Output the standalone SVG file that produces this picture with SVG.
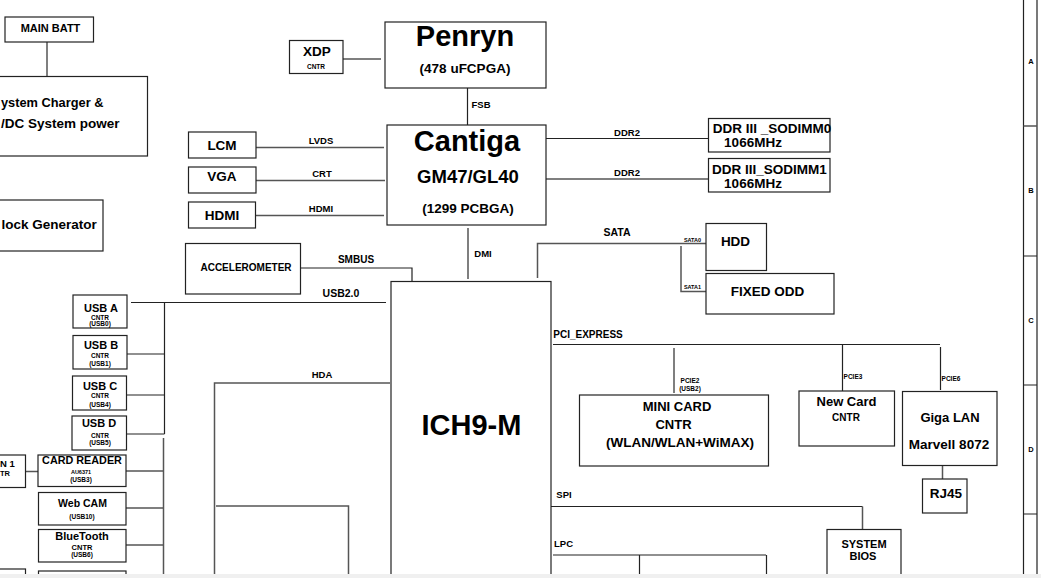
<svg xmlns="http://www.w3.org/2000/svg" width="1041" height="578" viewBox="0 0 1041 578">
<style>
text{font-family:"Liberation Sans",Arial,sans-serif;font-weight:bold;fill:#000;text-anchor:middle}
.b{fill:#fff;stroke:#222;stroke-width:1.2}
.l{fill:none;stroke:#222;stroke-width:1.2}
.g{fill:none;stroke:#555;stroke-width:1.5}
.s5{font-size:5.500px}.s6{font-size:6.500px}.s7{font-size:7.500px}.s9{font-size:9.500px}.s95{font-size:10px}.s10{font-size:10.500px}.s11{font-size:11px}.s12{font-size:13px}.s13{font-size:13.500px}.s14{font-size:13.500px}
</style>
<rect width="1041" height="578" fill="#fff"/>
<g id="connectors">
<path class="g" d="M47 42V76M343 59H381M256 147.500H384M256 180.500H385M256 215.500H384M546 179H708M468 228V279M537.500 278V243.500H706M681 246V291.500H706"/>
<path class="l" d="M467.500 88V125M546 138.500H708M301 268H412V281M131 302.500H386M164.500 302.500V434M127 354H164.500M126.500 395H164.500M126.500 434H164.500M553 344.500H940M842.500 344.500V391M940.500 347V390M551 506.500H862.500M553 555H766M639.500 555V574M766.500 555V574"/>
<path class="g" d="M163.500 438V574M25 471.500H38M126 471H163.500M126 508H163.500M126 545H163.500M390 383H214.500V574M216 506H348.500V574M674 348V393M942.500 465.500V479M862.500 506.500V529"/>
<path class="l" d="M1023.500 0V574M1037 0V574"/>
<path class="g" d="M1023.500 126H1037"/>
<path class="l" d="M1023.500 256H1037M1023.500 385H1037M1023.500 514H1037"/>
</g>
<g id="main-batt"><rect class="b" x="5" y="17" width="88.500" height="25"/><text class="s11" x="50.500" y="32">MAIN BATT</text></g>
<g id="charger"><rect class="b" x="-10" y="76.500" width="157.500" height="79.500"/><text style="font-size:12.800px;text-anchor:start" x="1" y="107">ystem Charger &amp;</text><text style="font-size:13.500px;text-anchor:start" x="1" y="128">/DC System power</text></g>
<g id="clock"><rect class="b" x="-10" y="200" width="113" height="51"/><text style="font-size:13.500px;text-anchor:start" x="1.500" y="229">lock Generator</text></g>
<g id="xdp"><rect class="b" x="289.500" y="40.500" width="53.500" height="33"/><text class="s14" x="317" y="56">XDP</text><text class="s6" x="316" y="69">CNTR</text></g>
<g id="penryn"><rect class="b" x="385" y="22" width="161" height="66"/><text x="465" y="46" style="font-size:29px">Penryn</text><text class="s13" x="465" y="73">(478 uFCPGA)</text></g>
<g id="cantiga"><rect class="b" x="387" y="125" width="159" height="100"/><text x="467" y="151" style="font-size:29px">Cantiga</text><text x="468" y="183" style="font-size:18.500px">GM47/GL40</text><text class="s13" x="468" y="213">(1299 PCBGA)</text></g>
<g id="lcm"><rect class="b" x="188.500" y="132" width="67.500" height="26"/><text class="s14" x="222" y="150">LCM</text></g>
<g id="vga"><rect class="b" x="188.500" y="167" width="67.500" height="26"/><text class="s14" x="222" y="181">VGA</text></g>
<g id="hdmi"><rect class="b" x="188.500" y="202" width="67" height="26"/><text class="s14" x="222" y="220">HDMI</text></g>
<g id="sodimm0"><rect class="b" x="708.500" y="118.500" width="121.500" height="33.500"/><text class="s13" x="772" y="133">DDR III _SODIMM0</text><text class="s13" x="753" y="147">1066MHz</text></g>
<g id="sodimm1"><rect class="b" x="708.500" y="158.500" width="121.500" height="33.500"/><text class="s13" x="769.500" y="174">DDR III_SODIMM1</text><text class="s13" x="753" y="188">1066MHz</text></g>
<g id="accelerometer"><rect class="b" x="185.500" y="243.500" width="115" height="50.500"/><text class="s95" x="246" y="271">ACCELEROMETER</text></g>
<g id="hdd"><rect class="b" x="706" y="223.500" width="60.500" height="47"/><text class="s14" x="735.500" y="246">HDD</text></g>
<g id="odd"><rect class="b" x="706" y="273.500" width="128" height="40.500"/><text class="s14" x="767.500" y="296">FIXED ODD</text></g>
<g id="ich9m"><rect class="b" x="391" y="281.500" width="160" height="310"/><text x="471.500" y="435" style="font-size:29px">ICH9-M</text></g>
<g id="usb-a"><rect class="b" x="73" y="295" width="54" height="33"/><text class="s11" x="101" y="312">USB A</text><text class="s6" x="100" y="320">CNTR</text><text class="s6" x="100" y="326">(USB0)</text></g>
<g id="usb-b"><rect class="b" x="73" y="335.500" width="54" height="33.500"/><text class="s11" x="101" y="349">USB B</text><text class="s6" x="100" y="358">CNTR</text><text class="s6" x="100" y="366">(USB1)</text></g>
<g id="usb-c"><rect class="b" x="72.500" y="376" width="54" height="34"/><text class="s11" x="100" y="390">USB C</text><text class="s6" x="100" y="398">CNTR</text><text class="s6" x="100" y="407">(USB4)</text></g>
<g id="usb-d"><rect class="b" x="72" y="416" width="54.500" height="34"/><text class="s11" x="99" y="427">USB D</text><text class="s6" x="100" y="438">CNTR</text><text class="s6" x="100" y="445">(USB5)</text></g>
<g id="new-card-left"><rect class="b" x="-10" y="455" width="35.500" height="32.500"/><text style="font-size:9.500px;text-anchor:start" x="0" y="467">N 1</text><text style="font-size:7.500px;text-anchor:start" x="0" y="476">TR</text></g>
<g id="card-reader"><rect class="b" x="38" y="455" width="88" height="31.500"/><text style="font-size:10.800px" x="82" y="464">CARD READER</text><text class="s5" x="81" y="474">AU6371</text><text class="s6" x="81" y="482">(USB3)</text></g>
<g id="web-cam"><rect class="b" x="38.500" y="492.500" width="87.500" height="32.500"/><text class="s10" x="82.500" y="507">Web CAM</text><text class="s6" x="82" y="519">(USB10)</text></g>
<g id="bluetooth"><rect class="b" x="38.500" y="529.500" width="87.500" height="32.500"/><text class="s11" x="82" y="540">BlueTooth</text><text class="s7" x="82" y="550">CNTR</text><text class="s6" x="82" y="557">(USB6)</text></g>
<g id="box-bottom"><rect class="b" x="38.500" y="571" width="87.500" height="20"/></g>
<g id="box-bottom-left"><rect class="b" x="-10" y="569" width="35.500" height="22"/></g>
<g id="mini-card"><rect class="b" x="579.500" y="395" width="189" height="71"/><text class="s12" x="677" y="411">MINI CARD</text><text class="s12" x="673.500" y="429">CNTR</text><text class="s13" x="680" y="447">(WLAN/WLAN+WiMAX)</text></g>
<g id="new-card"><rect class="b" x="799" y="391" width="95.500" height="55"/><text class="s12" x="846.500" y="406">New Card</text><text class="s95" x="846" y="421">CNTR</text></g>
<g id="giga-lan"><rect class="b" x="902.500" y="391.500" width="94.500" height="74"/><text class="s12" x="950" y="422">Giga LAN</text><text class="s13" x="949" y="449">Marvell 8072</text></g>
<g id="rj45"><rect class="b" x="922.500" y="479" width="44.500" height="34"/><text class="s13" x="946" y="498">RJ45</text></g>
<g id="system-bios"><rect class="b" x="827" y="529.500" width="74" height="60"/><text class="s11" x="864" y="548">SYSTEM</text><text class="s11" x="863" y="560">BIOS</text></g>
<g id="labels">
<text class="s9" x="481" y="108">FSB</text><text class="s9" x="321" y="144">LVDS</text><text class="s9" x="322" y="177">CRT</text><text class="s9" x="321" y="212">HDMI</text>
<text class="s9" x="627" y="136">DDR2</text><text class="s9" x="627" y="176">DDR2</text><text class="s9" x="483" y="257">DMI</text><text class="s10" x="617" y="236">SATA</text>
<text class="s5" x="692.500" y="242">SATA0</text><text class="s5" x="692.500" y="289">SATA1</text><text class="s95" x="356" y="263">SMBUS</text><text class="s10" x="341" y="297">USB2.0</text><text class="s9" x="322" y="378">HDA</text>
<text class="s95" x="588" y="338">PCI_EXPRESS</text><text class="s6" x="690" y="383">PCIE2</text><text class="s6" x="690" y="391">(USB2)</text><text class="s6" x="853" y="379">PCIE3</text><text class="s6" x="951" y="381">PCIE6</text>
<text class="s9" x="564" y="498">SPI</text><text class="s9" x="563.500" y="547">LPC</text>
<text class="s7" x="1031" y="64">A</text><text class="s7" x="1031" y="193">B</text><text class="s7" x="1031" y="323">C</text><text class="s7" x="1031" y="452">D</text>
</g>
<rect id="bottom-strip" x="0" y="574" width="1041" height="4" fill="#f0f0f0"/>
</svg>
